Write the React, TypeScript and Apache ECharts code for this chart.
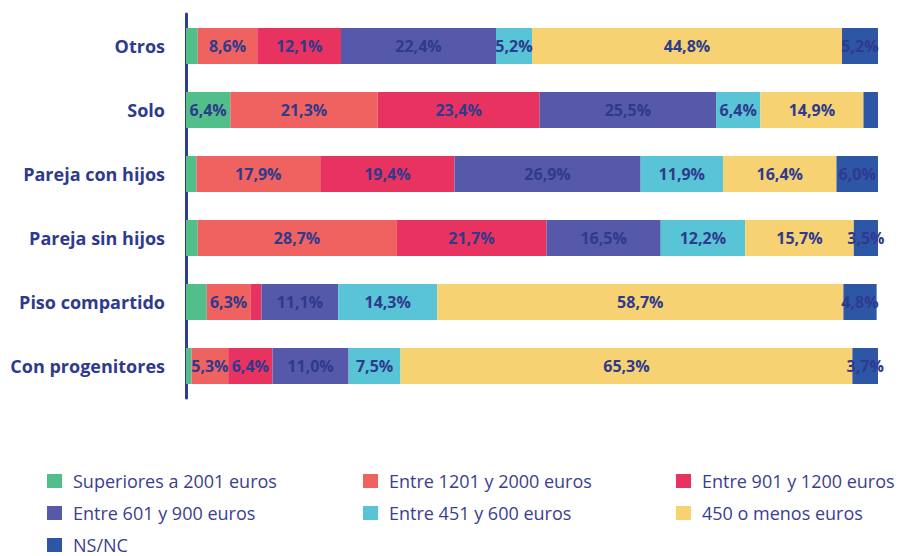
import React, { useEffect, useRef } from "react";
import * as echarts from "echarts";

const categories = ["Otros", "Solo", "Pareja con hijos", "Pareja sin hijos", "Piso compartido", "Con progenitores"];
const seriesNames = [
  "Superiores a 2001 euros",
  "Entre 1201 y 2000 euros",
  "Entre 901 y 1200 euros",
  "Entre 601 y 900 euros",
  "Entre 451 y 600 euros",
  "450 o menos euros",
  "NS/NC",
];
const sup2001 = [1.7, 6.4, 1.5, 1.7, 3.0, 0.8];
const e1201 = [8.6, 21.3, 17.9, 28.7, 6.3, 5.3];
const e901 = [12.1, 23.4, 19.4, 21.7, 1.6, 6.4];
const e601 = [22.4, 25.5, 26.9, 16.5, 11.1, 11.0];
const e451 = [5.2, 6.4, 11.9, 12.2, 14.3, 7.5];
const menos450 = [44.8, 14.9, 16.4, 15.7, 58.7, 65.3];
const nsnc = [5.2, 2.1, 6.0, 3.5, 4.8, 3.7];
const colors = ["#52bf8a", "#f0625f", "#e8325f", "#5659a9", "#58c4d5", "#f7d272", "#2d56a6"];
const allValues = [sup2001, e1201, e901, e601, e451, menos450, nsnc];

const NAVY = "#2e3a8e";
const FONT = "'Open Sans', Lato, sans-serif";

export default function App() {
  const ref = useRef<HTMLDivElement>(null);
  useEffect(() => {
    if (!ref.current) return;
    const chart = echarts.init(ref.current, undefined, { renderer: "svg" });
    const legendCommon = {
      orient: "vertical" as const,
      top: 467,
      height: 100,
      itemWidth: 15,
      itemHeight: 14,
      itemGap: 14,
      icon: "rect",
      textStyle: { color: "#3b3e8f", fontSize: 18, fontFamily: FONT, padding: [0, 0, 0, 6] },
      selectedMode: false,
    };
    chart.setOption({
      animation: false,
      grid: { left: 186, right: 21, top: 14, height: 384, containLabel: false },
      xAxis: { type: "value", min: 0, max: 100, show: false },
      yAxis: {
        type: "category",
        data: categories,
        inverse: true,
        axisLine: { show: true, lineStyle: { color: "#2c3e94", width: 3 } },
        axisTick: { show: false },
        axisLabel: { color: NAVY, fontWeight: "bold", fontSize: 18, fontFamily: FONT, margin: 21 },
      },
      legend: [
        { ...legendCommon, left: 42, data: [seriesNames[0], seriesNames[3], seriesNames[6]] },
        { ...legendCommon, left: 358, data: [seriesNames[1], seriesNames[4]] },
        { ...legendCommon, left: 671, data: [seriesNames[2], seriesNames[5]] },
      ],
      series: allValues.map((vals, i) => ({
        name: seriesNames[i],
        type: "bar",
        stack: "total",
        barWidth: 36,
        itemStyle: { color: colors[i] },
        label: {
          show: true,
          position: "inside",
          color: NAVY,
          fontWeight: "bold",
          fontSize: 16,
          fontFamily: FONT,
          formatter: (p: any) => (p.value >= 3.4 ? p.value.toFixed(1).replace(".", ",") + "%" : ""),
        },
        data: vals,
      })),
    });
    return () => chart.dispose();
  }, []);
  return <div ref={ref} style={{ width: 899, height: 556, position: "absolute", left: 0, top: 0 }} />;
}
